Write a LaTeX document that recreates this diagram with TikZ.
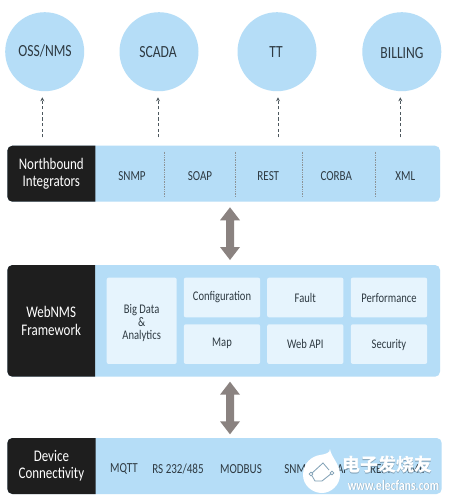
\documentclass[tikz,border=0pt]{standalone}
\usepackage{fontspec}
\setmainfont[FakeStretch=0.8]{Carlito}
\newfontfamily\cjkmark{Noto Sans CJK SC}
\usetikzlibrary{arrows.meta}
\definecolor{lblue}{HTML}{B5DDF7}
\definecolor{pale}{HTML}{E6F4FD}
\definecolor{dark}{HTML}{1E1E1E}
\definecolor{ink}{HTML}{2E3A42}
\definecolor{gbar}{HTML}{8A8280}
\definecolor{markshade}{HTML}{7F9FB5}
\tikzset{
 x=1pt,y=-1pt,
 sys/.style={circle,fill=lblue,minimum size=79pt,inner sep=0pt},
 systext/.style={text=ink,font=\fontsize{17}{17}\selectfont},
 bar/.style={fill=lblue,rounded corners=5pt},
 head/.style={fill=dark,rounded corners=5pt},
 headtext/.style={text=white,align=center,font=\fontsize{16.2}{17.3}\selectfont},
 proto/.style={text=ink,font=\fontsize{13.8}{14}\selectfont},
 card/.style={fill=pale,rounded corners=2pt,draw=none,inner sep=0pt},
 cardtext/.style={text=ink,align=center,font=\fontsize{13.2}{13.3}\selectfont},
 dashup/.style={dash pattern=on 3.2pt off 2.4pt,-{Stealth[length=4pt,width=4pt]},color=ink!85,line width=0.6pt},
 sep/.style={densely dotted,color=ink!55,line width=0.7pt},
 bigarrow/.style={draw=none,fill=gbar},
}
\newcommand{\headbar}[7]{%
 \fill[bar] (#2,#3) rectangle (#4,#5);
 \begin{scope}
  \clip (#2,#3) rectangle (#6,#5);
  \fill[head] (#2,#3) rectangle (#6+10,#5);
 \end{scope}
 \node[headtext] (#1) at ({(#2+#6)/2},{(#3+#5)/2}) {#7};
}
\newcommand{\dblarrow}[3]{%
 \fill[bigarrow] (#1,#2) -- (#1+10,#2+13) -- (#1+4,#2+13) -- (#1+4,#3-13) -- (#1+10,#3-13) -- (#1,#3) -- (#1-10,#3-13) -- (#1-4,#3-13) -- (#1-4,#2+13) -- (#1-10,#2+13) -- cycle;
}
\begin{document}
\begin{tikzpicture}
\useasboundingbox (0,0) rectangle (451,501);
\fill[white] (0,0) rectangle (451,501);
% circles
\node[sys] (oss) at (44.7,51.7) {};
\node[sys] (scada) at (159,51.7) {};
\node[sys] (tt) at (277,51.7) {};
\node[sys] (bill) at (401.8,51.7) {};
\node[systext] (ossT) at (45,51) {OSS/NMS};
\node[systext] (scadaT) at (158,52.3) {SCADA};
\node[systext] (ttT) at (276,52) {TT};
\node[systext] (billT) at (402,53.3) {BILLING};
% north bar
\headbar{nb}{7.3}{145.7}{440}{201.7}{95.3}{Northbound\\Integrators}
\node[proto] (snmp) at (132,176.3) {SNMP};
\node[proto] (soap) at (200,176.3) {SOAP};
\node[proto] (rest) at (268.3,176.3) {REST};
\node[proto] (corba) at (336.3,176.3) {CORBA};
\node[proto] (xml) at (405.3,176.3) {XML};
\foreach \x in {164.7,235.3,302,375.3}
  \draw[sep] (\x,151.7) -- (\x,196);
% dashed arrows
\coordinate (a1) at (42.3,137.3); \coordinate (b1) at (42.3,97.3);
\coordinate (a2) at (158,137.3); \coordinate (b2) at (158,97.3);
\coordinate (a3) at (278,137.3); \coordinate (b3) at (278,97.3);
\coordinate (a4) at (400.3,137.3); \coordinate (b4) at (400.3,97.3);
\draw[dashup] (a1) -- (b1);
\draw[dashup] (a2) -- (b2);
\draw[dashup] (a3) -- (b3);
\draw[dashup] (a4) -- (b4);
% middle
\dblarrow{230}{207.3}{260}
\headbar{wf}{7.3}{265}{440}{376.7}{95}{WebNMS\\Framework}
\node[card,minimum width=70pt,minimum height=86.3pt] (big) at (141.7,320.8) {};
\node[cardtext] (bigT) at (141.7,323) {Big Data\\\&\\Analytics};
\foreach \n/\t/\x/\y/\ty in {
 conf/Configuration/222/297.5/297.5,fault/Fault/305.3/297.5/298.3,perf/Performance/389/297.5/298.3,
 map/Map/222/344.1/343.7,api/Web API/305.3/344.1/343.7,sec/Security/389/344.1/344.7}{
  \node[card,minimum width=76.3pt,minimum height=39.7pt] (\n) at (\x,\y) {};
  \node[cardtext] (\n T) at (\x,\ty) {\t};
}
% bottom
\dblarrow{230}{381.7}{434.3}
\headbar{dc}{7.3}{438}{441.7}{494}{95.5}{Device\\Connectivity}
\node[proto] (mqtt) at (124,469) {MQTT};
\node[proto] (rs) at (178,469) {RS 232/485};
\node[proto] (mod) at (241,469) {MODBUS};
\node[proto] (snmpb) at (298,469) {SNMP};
\node[proto] (soapb) at (337,469) {SOAP};
\node[proto] (restb) at (381,469) {REST};
\node[proto] (xmlb) at (414,469) {XML};
% watermark of the reference
\fill[white] (330,449) .. controls (331,457) and (340,464) .. (340,475)
  .. controls (340,485) and (331,493) .. (322,493)
  .. controls (312,493) and (303,485) .. (303,475)
  .. controls (303,463) and (312,456) .. (320,455)
  .. controls (326,454) and (330,453) .. (330,449) -- cycle;
\coordinate (w1) at (311,474); \coordinate (w2) at (332,473);
\draw[markshade,line width=0.8pt] (w1) -- (323,463) -- (329,470);
\draw[markshade,line width=0.8pt] (w1) -- (315,481) -- (322,481) -- (w2);
\draw[markshade,fill=white,line width=0.7pt] (w1) circle (1.8pt);
\draw[markshade,fill=white,line width=0.7pt] (w2) circle (1.8pt);
\node[text=markshade,font=\cjkmark\bfseries\fontsize{18}{18}\selectfont,inner sep=0pt] (markS) at (387.5,465.5) {电子发烧友};
\node[text=white,font=\cjkmark\bfseries\fontsize{18}{18}\selectfont,inner sep=0pt] (markT) at (387,465) {电子发烧友};
\node[text=markshade,font=\bfseries\fontsize{14.5}{14}\selectfont,inner sep=0pt] (urlS) at (394,485.5) {www.elecfans.com};
\node[text=white,font=\bfseries\fontsize{14.5}{14}\selectfont,inner sep=0pt] (urlT) at (393.5,485) {www.elecfans.com};
\end{tikzpicture}
\end{document}
